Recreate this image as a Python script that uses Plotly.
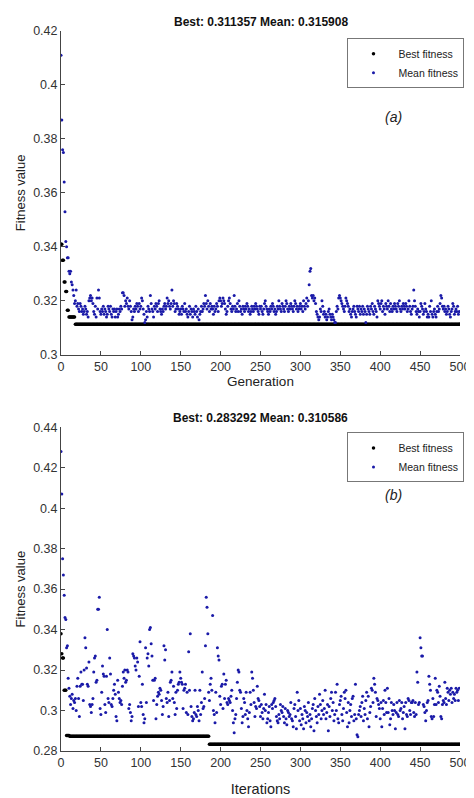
import plotly.graph_objects as go

mean_a = [
.411,.387,.376,.375,.364,.353,.342,.340,.336,.336,
.331,.330,.331,.327,.326,.324,.322,.319,.320,.324,
.318,.319,.317,.316,.319,.318,.316,.317,.315,.316,
.318,.317,.315,.316,.314,.320,.321,.322,.320,.321,
.319,.316,.315,.318,.314,.321,.317,.324,.321,.316,
.315,.317,.316,.318,.315,.317,.316,.314,.315,.318,
.317,.316,.318,.315,.314,.317,.316,.317,.314,.316,
.317,.314,.315,.317,.316,.318,.317,.323,.323,.322,
.318,.320,.319,.321,.318,.317,.320,.318,.316,.313,
.314,.317,.316,.318,.317,.319,.318,.316,.319,.317,
.318,.321,.320,.317,.315,.312,.313,.316,.314,.318,
.317,.316,.322,.319,.317,.316,.314,.318,.317,.319,
.318,.316,.319,.320,.317,.316,.315,.317,.316,.318,
.319,.317,.318,.321,.319,.320,.318,.317,.319,.324,
.318,.320,.319,.316,.317,.319,.318,.317,.315,.316,
.317,.315,.318,.317,.316,.319,.316,.317,.315,.314,
.316,.318,.315,.317,.316,.314,.317,.316,.315,.318,
.316,.314,.317,.313,.315,.316,.318,.316,.317,.319,
.318,.322,.319,.317,.320,.318,.316,.319,.317,.318,
.317,.315,.318,.316,.317,.319,.318,.316,.320,.321,
.320,.318,.319,.321,.320,.319,.317,.315,.316,.318,
.320,.321,.319,.317,.316,.318,.317,.322,.318,.316,
.317,.319,.316,.320,.318,.316,.317,.315,.318,.317,
.316,.318,.317,.319,.318,.316,.317,.315,.316,.318,
.317,.316,.318,.317,.319,.318,.317,.316,.315,.318,
.317,.318,.316,.315,.317,.319,.320,.318,.317,.316,
.315,.317,.316,.318,.317,.319,.318,.316,.317,.315,
.316,.318,.317,.320,.318,.317,.316,.319,.318,.317,
.316,.318,.320,.319,.317,.316,.318,.317,.319,.318,
.317,.316,.318,.320,.319,.317,.318,.316,.317,.318,
.319,.317,.318,.316,.320,.318,.317,.319,.321,.318,
.320,.326,.331,.332,.322,.321,.322,.320,.321,.319,
.316,.315,.314,.313,.314,.317,.316,.320,.318,.315,
.316,.314,.315,.313,.314,.316,.317,.315,.314,.313,
.315,.314,.313,.312,.312,.316,.318,.317,.321,.322,
.321,.320,.319,.318,.317,.316,.318,.321,.320,.319,
.318,.316,.317,.315,.314,.316,.317,.318,.316,.315,
.314,.318,.317,.316,.318,.315,.317,.316,.318,.315,
.317,.316,.312,.315,.318,.317,.316,.315,.318,.317,
.319,.316,.315,.318,.317,.316,.314,.320,.319,.318,
.317,.319,.320,.316,.318,.317,.315,.319,.318,.317,
.320,.318,.316,.319,.317,.316,.318,.317,.319,.318,
.317,.316,.319,.318,.320,.317,.316,.318,.317,.319,
.318,.317,.319,.318,.316,.317,.320,.318,.316,.315,
.317,.318,.324,.320,.318,.316,.315,.317,.316,.314,
.316,.319,.318,.317,.315,.316,.319,.317,.316,.314,
.315,.314,.318,.316,.320,.315,.314,.316,.317,.315,
.314,.316,.318,.316,.317,.319,.322,.321,.318,.317,
.318,.316,.317,.315,.316,.318,.317,.315,.314,.316,
.317,.319,.318,.315,.316,.317,.316,.318,.315,.316]

mean_b = [
.428,.407,.375,.367,.357,.346,.345,.331,.332,.316,
.311,.307,.303,.306,.308,.301,.305,.304,.306,.300,
.312,.316,.306,.297,.312,.319,.313,.313,.305,.320,
.336,.331,.321,.313,.312,.324,.303,.302,.299,.303,
.306,.319,.326,.327,.314,.315,.350,.350,.356,.301,
.298,.309,.322,.318,.317,.303,.299,.317,.340,.306,
.304,.326,.318,.303,.302,.306,.310,.313,.308,.297,
.295,.315,.309,.306,.304,.305,.303,.312,.319,.316,
.320,.314,.315,.320,.319,.301,.303,.299,.295,.297,
.328,.327,.326,.322,.320,.326,.324,.302,.317,.334,
.304,.302,.313,.298,.294,.296,.331,.304,.326,.328,
.322,.340,.341,.333,.327,.315,.305,.315,.316,.296,
.303,.307,.309,.308,.311,.310,.305,.298,.302,.332,
.325,.330,.306,.304,.309,.297,.305,.314,.315,.319,
.306,.312,.304,.298,.309,.301,.310,.313,.314,.319,
.316,.314,.313,.301,.310,.311,.313,.299,.309,.298,
.329,.310,.338,.302,.297,.295,.296,.299,.310,.298,
.297,.302,.300,.295,.310,.298,.304,.319,.301,.302,
.306,.332,.356,.351,.338,.309,.305,.313,.316,.310,
.347,.300,.298,.294,.309,.299,.331,.327,.325,.307,
.303,.312,.313,.301,.318,.306,.313,.315,.304,.303,
.306,.305,.304,.307,.310,.300,.294,.289,.296,.298,
.306,.314,.320,.319,.310,.309,.301,.294,.297,.306,
.304,.298,.309,.300,.296,.292,.299,.309,.303,.319,
.316,.310,.304,.297,.302,.301,.312,.306,.305,.302,
.297,.303,.299,.296,.301,.308,.300,.303,.294,.296,
.299,.302,.295,.292,.303,.301,.304,.305,.306,.302,
.297,.295,.294,.298,.296,.303,.300,.299,.302,.297,
.294,.301,.296,.293,.300,.299,.297,.298,.304,.296,
.295,.292,.301,.303,.297,.291,.309,.300,.305,.295,
.301,.293,.298,.296,.291,.302,.300,.294,.299,.297,
.304,.295,.298,.292,.296,.301,.303,.290,.306,.300,
.297,.294,.302,.298,.308,.303,.296,.300,.305,.298,
.301,.310,.296,.299,.303,.290,.302,.297,.306,.309,
.300,.304,.295,.298,.309,.300,.313,.296,.294,.303,
.305,.307,.298,.295,.301,.309,.306,.310,.299,.292,
.304,.294,.300,.303,.297,.306,.307,.295,.298,.313,
.296,.288,.287,.298,.300,.302,.297,.304,.307,.295,
.301,.298,.305,.309,.296,.307,.292,.299,.302,.311,
.310,.304,.316,.313,.309,.297,.306,.305,.303,.301,
.296,.304,.292,.301,.305,.298,.310,.304,.299,.311,
.299,.306,.293,.296,.304,.300,.298,.303,.300,.291,
.299,.304,.298,.297,.305,.300,.301,.304,.296,.299,
.302,.291,.304,.298,.297,.306,.305,.300,.298,.304,
.304,.305,.299,.297,.304,.298,.319,.314,.303,.304,
.336,.331,.327,.327,.303,.302,.299,.295,.300,.304,
.305,.317,.313,.310,.297,.296,.306,.297,.303,.316,
.303,.310,.309,.304,.312,.307,.297,.296,.303,.305,
.304,.314,.306,.303,.311,.309,.305,.310,.308,.311,
.304,.309,.306,.308,.305,.311,.309,.310,.305,.311]

best_a_starts = [0, 2, 4, 6, 8, 10, 18]
best_a_levels = [0.341, 0.335, 0.327, 0.3235, 0.3165, 0.314, 0.311357]
best_b_starts = [0, 1, 2, 4, 7, 11, 186]
best_b_levels = [0.338, 0.328, 0.326, 0.310, 0.2876, 0.2873, 0.283292]

def expand(starts, levels, n):
    out = []
    for i in range(n):
        v = levels[0]
        for s, l in zip(starts, levels):
            if i >= s:
                v = l
        out.append(v)
    return out

N = 501
best_a = expand(best_a_starts, best_a_levels, N)
best_b = expand(best_b_starts, best_b_levels, N)

BLUE = "#1a1aa8"
fig = go.Figure()
fig.add_trace(go.Scatter(x=list(range(N)), y=best_a, mode="markers", name="Best fitness",
                         marker=dict(color="black", size=3.5), legend="legend"))
fig.add_trace(go.Scatter(x=list(range(len(mean_a))), y=mean_a, mode="markers", name="Mean fitness",
                         marker=dict(color=BLUE, size=3), legend="legend"))
fig.add_trace(go.Scatter(x=list(range(N)), y=best_b, mode="markers", name="Best fitness",
                         marker=dict(color="black", size=3.5), xaxis="x2", yaxis="y2", legend="legend2"))
fig.add_trace(go.Scatter(x=list(range(len(mean_b))), y=mean_b, mode="markers", name="Mean fitness",
                         marker=dict(color=BLUE, size=3), xaxis="x2", yaxis="y2", legend="legend2"))

ax = dict(showline=True, linecolor="#444", linewidth=1, ticks="inside", ticklen=4,
          tickcolor="#444", showgrid=False, zeroline=False, mirror=False,
          ticklabeloverflow="allow", tickfont=dict(size=12.5, color="#333"))
leg = dict(xanchor="left", yanchor="top", bordercolor="#777", borderwidth=1,
           font=dict(size=10.5), bgcolor="white", itemwidth=40, tracegroupgap=0)
fig.update_layout(
    width=474, height=798, plot_bgcolor="white", paper_bgcolor="white",
    font=dict(family="Liberation Sans, Arial", color="#222"),
    margin=dict(l=47, r=13, t=23, b=50),
    xaxis=dict(ax, domain=[0, 1], range=[0, 500], dtick=50, anchor="y",
               title=dict(text="Generation", font=dict(size=13.5), standoff=2)),
    yaxis=dict(ax, domain=[0.5503, 1], range=[0.3, 0.42], dtick=0.02, anchor="x",
               title=dict(text="Fitness value", font=dict(size=13), standoff=4)),
    xaxis2=dict(ax, domain=[0, 1], range=[0, 500], dtick=50, anchor="y2",
                title=dict(text="Iterations", font=dict(size=14.5), standoff=14)),
    yaxis2=dict(ax, domain=[0, 0.4497], range=[0.28, 0.44], dtick=0.02, anchor="x2",
                title=dict(text="Fitness value", font=dict(size=13), standoff=4)),
    legend=dict(leg, x=0.718, y=0.99),
    legend2=dict(leg, x=0.718, y=0.4425),
    annotations=[
        dict(text="<b>Best: 0.311357 Mean: 0.315908</b>", x=0.5, y=1.0, xref="paper", yref="paper",
             yanchor="bottom", showarrow=False, font=dict(size=12, color="#111")),
        dict(text="<b>Best: 0.283292 Mean: 0.310586</b>", x=0.5, y=0.4497, xref="paper", yref="paper",
             yanchor="bottom", showarrow=False, font=dict(size=12, color="#111")),
        dict(text="<i>(a)</i>", x=0.86, y=0.895, xref="paper", yref="paper", showarrow=False,
             font=dict(size=14, color="#222")),
        dict(text="<i>(b)</i>", x=0.86, y=0.355, xref="paper", yref="paper", showarrow=False,
             font=dict(size=14, color="#222")),
    ],
)
fig.write_html("out.html")
